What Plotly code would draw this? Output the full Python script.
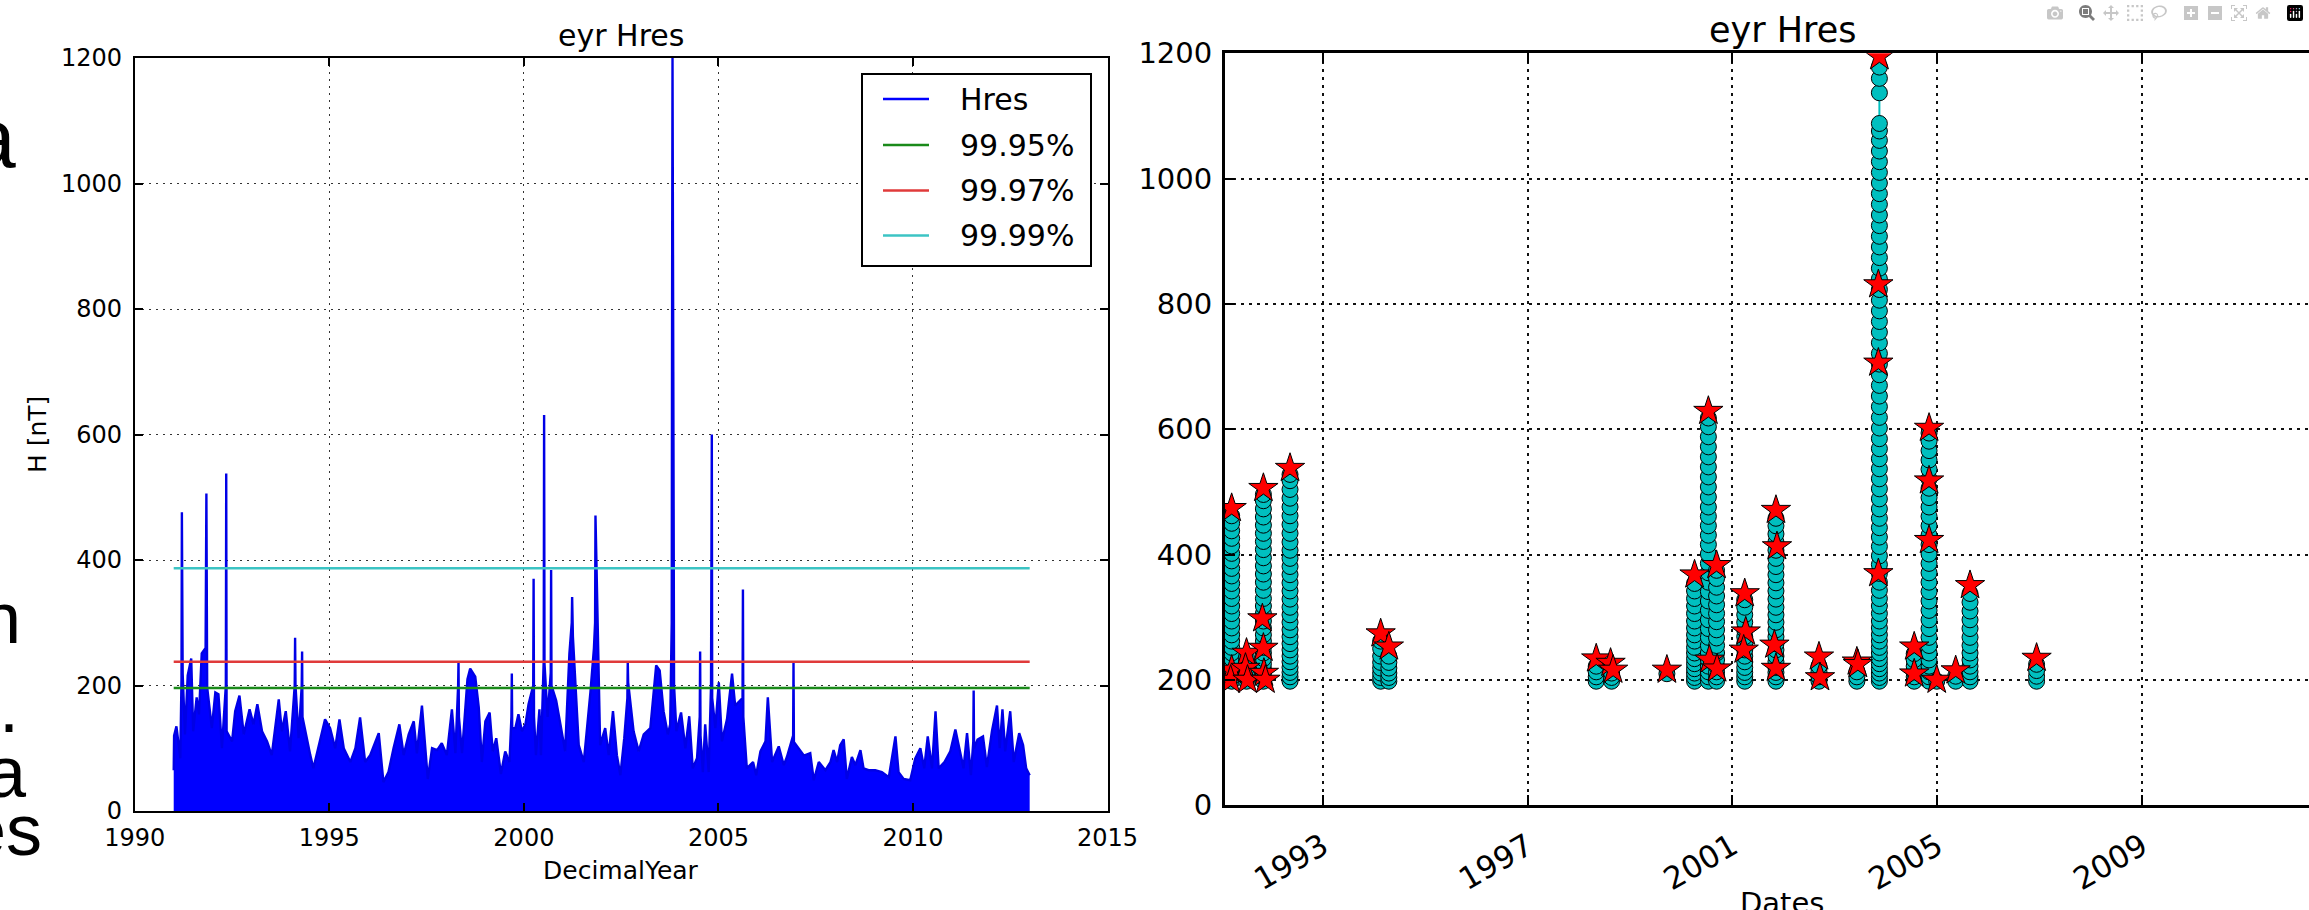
import plotly.graph_objects as go

W, H = 2309, 910

# ---------------- Left panel data: Hres time series (decimal year, nT) ----------------
hres_years = [
    1991.00, 1991.01, 1991.07, 1991.17, 1991.20, 1991.21, 1991.23, 1991.29, 1991.36, 1991.45,
    1991.50, 1991.59, 1991.65, 1991.72, 1991.82, 1991.84, 1991.86, 1991.98, 1992.07, 1992.15,
    1992.24, 1992.34, 1992.35, 1992.36, 1992.50, 1992.58, 1992.69, 1992.80, 1992.95, 1993.05,
    1993.15, 1993.27, 1993.40, 1993.52, 1993.70, 1993.78, 1993.88, 1993.99, 1994.11, 1994.12,
    1994.13, 1994.21, 1994.29, 1994.30, 1994.31, 1994.38, 1994.51, 1994.59, 1994.77, 1994.89,
    1995.02, 1995.15, 1995.26, 1995.37, 1995.54, 1995.67, 1995.79, 1995.92, 1996.05, 1996.27,
    1996.39, 1996.52, 1996.65, 1996.80, 1996.91, 1997.04, 1997.17, 1997.25, 1997.38, 1997.53,
    1997.64, 1997.77, 1997.89, 1998.02, 1998.15, 1998.24, 1998.31, 1998.32, 1998.33, 1998.41,
    1998.55, 1998.62, 1998.75, 1998.84, 1998.92, 1999.01, 1999.12, 1999.20, 1999.29, 1999.41,
    1999.52, 1999.63, 1999.68, 1999.69, 1999.70, 1999.78, 1999.86, 1999.95, 2000.04, 2000.12,
    2000.24, 2000.25, 2000.26, 2000.31, 2000.40, 2000.44, 2000.51, 2000.52, 2000.53, 2000.61,
    2000.69, 2000.70, 2000.71, 2000.83, 2000.94, 2001.06, 2001.17, 2001.23, 2001.24, 2001.26,
    2001.41, 2001.54, 2001.71, 2001.80, 2001.83, 2001.84, 2001.86, 2001.96, 2002.09, 2002.18,
    2002.29, 2002.39, 2002.48, 2002.58, 2002.66, 2002.67, 2002.68, 2002.82, 2002.95, 2003.08,
    2003.25, 2003.40, 2003.49, 2003.59, 2003.70, 2003.76, 2003.80, 2003.81, 2003.82, 2003.84,
    2003.86, 2003.92, 2004.04, 2004.15, 2004.25, 2004.34, 2004.45, 2004.52, 2004.53, 2004.54,
    2004.60, 2004.66, 2004.75, 2004.81, 2004.82, 2004.83, 2004.84, 2004.92, 2005.01, 2005.09,
    2005.22, 2005.35, 2005.43, 2005.62, 2005.63, 2005.64, 2005.73, 2005.89, 2005.97, 2006.08,
    2006.21, 2006.27, 2006.38, 2006.55, 2006.68, 2006.76, 2006.92, 2006.93, 2006.94, 2007.06,
    2007.19, 2007.23, 2007.36, 2007.45, 2007.58, 2007.75, 2007.88, 2007.96, 2008.05, 2008.13,
    2008.22, 2008.30, 2008.43, 2008.52, 2008.65, 2008.73, 2008.86, 2009.03, 2009.20, 2009.38,
    2009.55, 2009.63, 2009.76, 2009.93, 2010.06, 2010.19, 2010.29, 2010.38, 2010.49, 2010.58,
    2010.66, 2010.81, 2010.96, 2011.09, 2011.20, 2011.30, 2011.39, 2011.49, 2011.55, 2011.56,
    2011.57, 2011.66, 2011.80, 2011.90, 2012.03, 2012.16, 2012.23, 2012.30, 2012.37, 2012.50,
    2012.59, 2012.73, 2012.83, 2012.91, 2013.00,
]
hres_values = [
    65, 120, 135, 84, 210, 476, 219, 122, 216, 243,
    127, 181, 154, 251, 260, 506, 197, 132, 189, 186,
    100, 200, 538, 127, 111, 159, 184, 122, 162, 138,
    170, 127, 111, 89, 178, 127, 159, 95, 200, 276,
    200, 116, 200, 254, 150, 127, 89, 68, 116, 146,
    132, 100, 146, 100, 78, 100, 149, 78, 89, 124,
    46, 62, 100, 138, 89, 122, 143, 92, 168, 51,
    100, 97, 108, 89, 162, 92, 200, 238, 150, 92,
    210, 227, 214, 165, 78, 143, 157, 95, 116, 59,
    95, 78, 150, 219, 132, 132, 154, 127, 138, 170,
    200, 370, 150, 89, 162, 89, 240, 631, 235, 150,
    220, 384, 200, 176, 138, 95, 251, 300, 341, 278,
    105, 78, 189, 259, 300, 471, 411, 105, 132, 89,
    159, 89, 57, 116, 180, 238, 205, 127, 95, 122,
    132, 232, 224, 159, 122, 138, 300, 830, 1200, 700,
    200, 127, 157, 100, 151, 68, 84, 150, 254, 120,
    62, 138, 62, 200, 520, 600, 180, 132, 205, 111,
    146, 219, 168, 180, 353, 150, 68, 78, 57, 95,
    111, 181, 78, 103, 73, 86, 120, 238, 110, 100,
    89, 89, 92, 49, 78, 65, 78, 97, 78, 105,
    114, 51, 86, 73, 97, 68, 65, 65, 62, 54,
    119, 62, 51, 49, 84, 100, 68, 119, 68, 159,
    68, 78, 95, 130, 100, 68, 124, 57, 110, 192,
    100, 114, 119, 70, 127, 168, 100, 162, 95, 159,
    78, 124, 105, 68, 57,
]

# Percentile threshold levels (nT)
threshold_names = ["99.95%", "99.97%", "99.99%"]
threshold_values = [196, 238, 387]
threshold_colors = ["#1a8a1a", "#e03a3a", "#3cc4c4"]
series_start, series_end = 1991.0, 2013.0

# ---------------- Right panel data: exceedances above threshold ----------------
event_years = [1991.22, 1991.51, 1991.84, 1992.36, 1994.13, 1994.29, 1998.34, 1998.64,
               1999.72, 2000.26, 2000.53, 2000.69, 2001.24, 2001.85, 2002.69, 2003.43,
               2003.87, 2004.55, 2004.84, 2004.99, 2005.36, 2005.64, 2006.94]
event_values = [
    [198, 204, 211, 218, 226, 234, 243, 252, 262, 272, 283, 294, 306, 318, 330, 342, 354, 366, 378, 390, 402, 414, 426, 438, 450, 462],
    [198, 204, 211, 219, 228, 236],
    [198, 204, 211, 218, 226, 234, 243, 252, 262, 272, 283, 294, 306, 318, 330, 343, 356, 369, 382, 395, 408, 421, 434, 447, 460, 473, 486, 496],
    [198, 205, 212, 220, 229, 238, 248, 258, 269, 280, 292, 304, 316, 329, 342, 355, 368, 381, 394, 407, 420, 434, 448, 462, 476, 490, 504, 518, 528],
    [198, 204, 211, 219, 228, 238, 250, 262],
    [198, 204, 211, 219, 228, 238],
    [198, 205, 213, 222],
    [198, 204, 211],
    [210],
    [198, 204, 211, 218, 226, 234, 243, 252, 262, 272, 283, 294, 306, 318, 330, 342, 354],
    [198, 205, 213, 222, 232, 243, 255, 268, 282, 296, 311, 326, 341, 356, 371, 386, 401, 416, 431, 446, 461, 476, 492, 508, 524, 540, 556, 572, 588, 604, 618],
    [198, 205, 213, 222, 232, 243, 255, 267, 280, 293, 306, 320, 334, 348, 362, 375],
    [198, 205, 212, 220, 229, 238, 248, 258, 269, 280, 292, 304, 316, 328],
    [198, 205, 212, 220, 229, 238, 248, 258, 269, 280, 292, 304, 316, 329, 342, 355, 368, 381, 394, 407, 420, 433, 446, 458],
    [198, 205, 213, 222],
    [198, 205, 213],
    [198, 204, 211, 218, 226, 234, 243, 252, 262, 272, 283, 294, 306, 318, 330, 343, 356, 370, 384, 398, 413, 428, 443, 458, 473, 489, 505, 521, 537, 553, 569, 585, 602, 619, 636, 653, 670, 687, 704, 721, 738, 755, 772, 789, 806, 823, 840, 857, 874, 891, 908, 925, 942, 959, 976, 993, 1010, 1027, 1044, 1061, 1076, 1088, 1137, 1160, 1178],
    [198, 205, 213, 222, 232, 242],
    [198, 205, 213, 222, 232, 243, 255, 268, 282, 296, 311, 326, 341, 356, 371, 386, 401, 416, 431, 446, 461, 476, 491, 506, 521, 536, 551, 566, 581, 594],
    [198],
    [198, 206],
    [198, 205, 213, 222, 232, 243, 255, 268, 282, 296, 310, 324, 338],
    [198, 206, 215, 225],
]

peak_years = [1991.22, 1991.22, 1991.20, 1991.51, 1991.49, 1991.53, 1991.84, 1991.82, 1991.84,
              1991.85, 1991.88, 1992.36, 1994.13, 1994.29, 1998.34, 1998.62, 1998.67, 1999.72,
              2000.26, 2000.53, 2000.55, 2000.69, 2000.70, 2001.24, 2001.26, 2001.22, 2001.85,
              2001.87, 2001.82, 2001.85, 2002.69, 2002.71, 2003.43, 2003.45, 2003.87, 2003.85,
              2003.85, 2003.85, 2004.55, 2004.55, 2004.84, 2004.84, 2004.84, 2004.99, 2005.36,
              2005.64, 2006.94]
peak_values = [474, 216, 200, 243, 219, 200, 506, 298, 251,
               211, 200, 538, 274, 253, 234, 227, 216, 216,
               368, 629, 232, 383, 218, 338, 277, 248, 471,
               413, 256, 219, 237, 204, 229, 225, 1195, 831,
               706, 370, 253, 210, 602, 518, 423, 200, 215,
               351, 235]

# ---------------- helpers (pixel -> paper) ----------------
def px(x):
    return x / W

def py(y):
    return 1 - y / H

fig = go.Figure()

# Left panel traces
fig.add_trace(go.Scatter(
    x=hres_years, y=hres_values, mode="lines", name="Hres",
    line=dict(color="#0000e6", width=2.4), fill="tozeroy", fillcolor="#0000ff",
    xaxis="x", yaxis="y", showlegend=False))
for nm, val, col in zip(threshold_names, threshold_values, threshold_colors):
    fig.add_trace(go.Scatter(
        x=[series_start, series_end], y=[val, val], mode="lines", name=nm,
        line=dict(color=col, width=2.5), xaxis="x", yaxis="y", showlegend=False))

# Right panel traces
cx, cy = [], []
for yr, vals in zip(event_years, event_values):
    for v in vals:
        cx.append(yr)
        cy.append(v)
    cx.append(None)
    cy.append(None)
fig.add_trace(go.Scatter(
    x=cx, y=cy, mode="lines+markers", name="exceedances",
    line=dict(color="#00bfbf", width=2),
    marker=dict(symbol="circle", size=16, color="#00bfbf", line=dict(color="#000000", width=1)),
    xaxis="x2", yaxis="y2", showlegend=False, connectgaps=False))
fig.add_trace(go.Scatter(
    x=peak_years, y=peak_values, mode="markers", name="peaks",
    marker=dict(symbol="star", size=22, color="#ff0000", line=dict(color="#000000", width=1)),
    xaxis="x2", yaxis="y2", showlegend=False))

LFONT = "DejaVu Sans, Bitstream Vera Sans, sans-serif"

left_axis_common = dict(
    showline=True, linecolor="black", linewidth=2, mirror="ticks",
    ticks="inside", ticklen=8, tickwidth=1.5, tickcolor="black",
    showgrid=True, gridcolor="#333333", griddash="2px,5px", gridwidth=1.2,
    zeroline=False, automargin=False, tickfont=dict(family=LFONT, size=24, color="black"),
)
right_axis_common = dict(
    showline=True, linecolor="black", linewidth=3,
    ticks="inside", ticklen=10, tickwidth=1.5, tickcolor="black",
    showgrid=True, gridcolor="#111111", griddash="3px,5px", gridwidth=1.6,
    zeroline=False, automargin=False,
)

fig.update_layout(
    width=W, height=H, margin=dict(l=0, r=0, t=0, b=0, pad=0, autoexpand=False),
    paper_bgcolor="white", plot_bgcolor="white", showlegend=False,
    xaxis=dict(domain=[px(134.8), px(1107.5)], range=[1990, 2015], tick0=1990, dtick=5,
               ticklabelstandoff=4, **left_axis_common),
    yaxis=dict(domain=[py(811), py(58)], range=[0, 1200], tick0=0, dtick=200,
               ticklabelstandoff=6, **left_axis_common),
    xaxis2=dict(domain=[px(1225), 1.0], range=[1991.09, 2012.26],
                tickvals=[1993, 1997, 2001, 2005, 2009], ticktext=["1993", "1997", "2001", "2005", "2009"],
                tickangle=-30, ticklabelstandoff=8, anchor="y2", mirror="ticks",
                tickfont=dict(family=LFONT, size=31, color="black"), **right_axis_common),
    yaxis2=dict(domain=[py(805.3), py(53.3)], range=[0, 1200], tick0=0, dtick=200,
                anchor="x2", mirror=False, ticklabelstandoff=4,
                tickfont=dict(family=LFONT, size=29, color="black"), **right_axis_common),
)

ann = []
def add_text(text, x, y, size, family=LFONT, xanchor="center", yanchor="middle", angle=0, color="black"):
    ann.append(dict(text=text, x=px(x), y=py(y), xref="paper", yref="paper", showarrow=False,
                    xanchor=xanchor, yanchor=yanchor, textangle=angle,
                    font=dict(family=family, size=size, color=color)))

# Left panel texts
add_text("eyr Hres", 621, 36, 30)
add_text("DecimalYear", 621, 870, 25)
add_text("H [nT]", 37, 435, 25, angle=-90)
# Right panel texts
add_text("eyr Hres", 1782, 30, 35)
add_text("Dates", 1782, 903, 29)

# Manual legend (matplotlib-style box)
shapes = [dict(type="rect", xref="paper", yref="paper", x0=px(862), x1=px(1091), y0=py(266), y1=py(74),
               line=dict(color="black", width=2), fillcolor="white", layer="above")]
legend_names = ["Hres"] + threshold_names
legend_colors = ["#0000ff"] + threshold_colors
legend_rows = [99, 145, 190.5, 235.5]
for nm, col, yy in zip(legend_names, legend_colors, legend_rows):
    shapes.append(dict(type="line", xref="paper", yref="paper", x0=px(883), x1=px(929), y0=py(yy), y1=py(yy),
                       line=dict(color=col, width=2.5), layer="above"))
    add_text(nm, 958, yy, 30, xanchor="left")

# Fragments of the surrounding slide text, cut at the left edge
SLIDE = "Liberation Sans, Arial, sans-serif"
add_text("a", 18, 138, 84, family=SLIDE, xanchor="right")
add_text("n", 23, 618, 72, family=SLIDE, xanchor="right")
add_text("s.", 21, 707, 72, family=SLIDE, xanchor="right")
add_text("ta", 29, 772, 72, family=SLIDE, xanchor="right")
add_text("es", 44, 830, 72, family=SLIDE, xanchor="right")

fig.update_layout(annotations=ann, shapes=shapes)

fig.write_html("out.html", post_script="document.body.style.margin='0';document.body.style.padding='0';document.body.style.overflow='hidden';")
